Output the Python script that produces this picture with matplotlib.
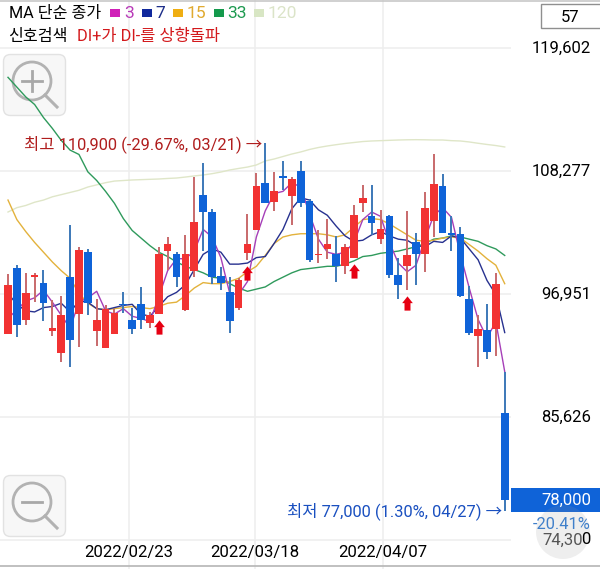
"""Daily candle chart with moving averages, styled like a Korean brokerage app."""

import matplotlib

matplotlib.use("Agg")

import matplotlib.pyplot as plt
import numpy as np
from matplotlib.patches import Circle, FancyBboxPatch, Rectangle
from matplotlib.path import Path

plt.rcParams["font.family"] = ["Roboto", "Noto Sans CJK KR", "DejaVu Sans"]

opens = [93300, 99300, 94600, 98500, 98000, 93500, 91500, 98500, 95100, 100800,
         93500, 92000, 93300, 96000, 94600, 96000, 94300, 95100, 100900, 100600,
         95500, 99100, 106100, 104500, 98600, 97100, 95700, 100700, 102800, 107200,
         105400, 107800, 106000, 108300, 105500, 100500, 101100, 100600, 99500, 100300,
         105300, 104100, 102000, 104100, 98700, 99500, 101700, 100600, 103700, 106900,
         102600, 102500, 96500, 93100, 93600, 93700, 86000]
closes = [97800, 94100, 97000, 98700, 96100, 93800, 95000, 92700, 101000, 96100,
          94600, 95600, 95200, 95900, 93700, 94600, 95000, 100600, 101600, 98500,
          100600, 103600, 104500, 98500, 98000, 94500, 98200, 101600, 106900, 105300,
          106400, 107600, 107500, 105300, 100100, 100600, 101600, 99500, 101300, 104200,
          105800, 103500, 102900, 98700, 97800, 100500, 100600, 104900, 107100, 102600,
          102400, 96800, 93400, 93700, 91600, 97900, 78000]
highs = [98800, 99600, 98900, 98900, 99200, 96400, 96800, 103300, 101300, 101100,
         96500, 95900, 95600, 97100, 95700, 97600, 95300, 101300, 102200, 100800,
         102400, 107700, 109000, 104800, 99400, 98500, 98400, 104300, 108100, 110900,
         108200, 109200, 107700, 109200, 105700, 102800, 103900, 102300, 101600, 105100,
         107000, 107000, 104700, 104200, 100300, 104600, 102600, 106300, 109800, 108000,
         104100, 103100, 97700, 95000, 96000, 98900, 89800]
lows = [93300, 93000, 94100, 96200, 94500, 93100, 90700, 90200, 92100, 95000,
        92200, 92000, 93300, 95200, 93300, 93700, 93800, 95100, 99200, 97600,
        95400, 98500, 100900, 97900, 97300, 93400, 95500, 100100, 102800, 105300,
        104600, 106500, 103300, 105000, 99900, 99800, 100200, 98100, 98800, 100300,
        104500, 102400, 101600, 98400, 96500, 97300, 97800, 99000, 102200, 102600,
        100900, 96700, 93200, 90200, 91000, 91200, 77000]

ma3 = [94700, 95500, 96300, 96600, 97300, 96200, 95000, 93800, 96200, 96600,
       97200, 95400, 95100, 95600, 94900, 94700, 94400, 96700, 99100, 100200,
       100200, 100900, 102900, 102200, 100300, 97000, 96900, 98100, 102200, 104600,
       106200, 106400, 107200, 106800, 104300, 102000, 100800, 100600, 100800, 101700,
       103800, 104500, 104100, 101700, 99800, 99000, 99600, 102000, 104200, 104900,
       104000, 100600, 97500, 94600, 92900, 94400, 89800]
ma7 = [97000, 96000, 95400, 95300, 95700, 95800, 96100, 95300, 96300, 96200,
       95600, 95500, 95700, 95900, 96000, 95100, 94900, 95800, 96700, 97100,
       97800, 99200, 100600, 101100, 100800, 99700, 99700, 99800, 100300, 100400,
       101600, 102900, 104800, 105800, 105600, 104700, 104200, 103200, 102300, 101800,
       101900, 102400, 102700, 102300, 102000, 101900, 101400, 101300, 101800, 101700,
       102300, 102100, 101100, 100100, 98200, 96900, 93400]
ma15 = [105600, 103800, 102700, 101700, 100800, 99900, 99100, 98400, 97000, 96100,
        95600, 95500, 95600, 95700, 95800, 95700, 95600, 95800, 96100, 96200,
        96800, 97500, 98000, 97900, 97900, 98100, 98400, 99000, 99500, 100500,
        101600, 102200, 102400, 102500, 102500, 102500, 102400, 102200, 102400, 103100,
        103800, 103900, 103800, 103400, 102900, 102400, 101900, 101800, 101900, 102100,
        102200, 102100, 101500, 100900, 100200, 99600, 97900]
ma33 = [116900, 116000, 115100, 114400, 113200, 112200, 111100, 110200, 109800, 108200,
        107400, 106400, 105300, 103900, 102800, 102100, 101400, 100800, 100400, 99900,
        99500, 99200, 98900, 98500, 98400, 97900, 97500, 97200, 97400, 97600,
        98100, 98500, 98900, 99200, 99300, 99400, 99500, 99500, 99700, 100000,
        100400, 100500, 100700, 100800, 100900, 101100, 101300, 101600, 102000, 102100,
        102300, 102200, 102000, 101800, 101400, 101100, 100500]
ma120 = [104500, 104900, 105100, 105400, 105600, 105900, 106100, 106300, 106500, 106800,
         107000, 107200, 107350, 107400, 107450, 107480, 107510, 107540, 107590, 107630,
         107720, 107820, 107910, 108030, 108180, 108370, 108510, 108640, 108830, 109200,
         109380, 109610, 109840, 110030, 110260, 110440, 110580, 110700, 110810, 110900,
         110990, 111040, 111070, 111100, 111130, 111150, 111160, 111150, 111130, 111130,
         111070, 111040, 110950, 110830, 110720, 110620, 110490]

signal_days = [17, 27, 39, 45]
signal_levels = [93900, 98900, 99100, 96100]

price_ticks = [119602, 108277, 96951, 85626, 74300]
date_labels = ["2022/02/23", "2022/03/18", "2022/04/07"]
date_positions = [13.6, 27.85, 42.3]

RED = "#f23232"
BLUE = "#0f63d8"
RED_WICK = "#c8696b"
BLUE_WICK = "#3c78b8"
MA_COLORS = ["#a63fb8", "#27318f", "#e3b23c", "#2f9a5c", "#dfe6c8"]
GRID = "#eeeeee"

W, H = 600, 569
fig = plt.figure(figsize=(W / 100, H / 100), dpi=100, facecolor="white")


def pixel_axes(zorder):
    """Axes in screen pixels, for the app chrome around the chart."""
    pax = fig.add_axes([0, 0, 1, 1], zorder=zorder)
    pax.set_axis_off()
    pax.set_xlim(0, W)
    pax.set_ylim(H, 0)
    return pax


back = pixel_axes(-1)
ax = fig.add_axes([0, 0, 1, 1])
ax.set_axis_off()
# one candle is 8.87 px, one px is 92.08 won
ax.set_xlim(-8 / 8.87, (W - 8) / 8.87)
ax.set_ylim(124022 - 92.08 * H, 124022)
ui = pixel_axes(5)

grid_right = (511 - 8) / 8.87
ax.hlines(price_ticks, -1, grid_right, color=GRID, lw=1.1, zorder=1)
ax.vlines(date_positions, ax.get_ylim()[0], ax.get_ylim()[1], color=GRID, lw=1.1, zorder=1)

x = np.arange(len(opens))
for series, color in zip([ma120, ma33, ma15, ma7, ma3], MA_COLORS[::-1]):
    ax.plot(x, series, color=color, lw=1.0, zorder=2)

opens_a, closes_a = np.array(opens), np.array(closes)
up = closes_a >= opens_a
ax.vlines(x[up], np.array(lows)[up], np.array(highs)[up], color=RED_WICK, lw=1.4, zorder=3)
ax.vlines(x[~up], np.array(lows)[~up], np.array(highs)[~up], color=BLUE_WICK, lw=1.4, zorder=3)
ax.bar(x[up], (closes_a - opens_a)[up], bottom=opens_a[up], width=0.86, color=RED, zorder=4)
ax.bar(x[~up], (opens_a - closes_a)[~up], bottom=closes_a[~up], width=0.86, color=BLUE, zorder=4)

arrow = Path([(0, 1), (0.75, 0.05), (0.42, 0.05), (0.42, -1), (-0.42, -1), (-0.42, 0.05),
              (-0.75, 0.05), (0, 1)], closed=True)
ax.scatter(signal_days, signal_levels, marker=arrow, s=105, color="#e60012", linewidths=0, zorder=5)


def label(px, py, text, color="black", size=12, ha="left", **kw):
    ui.text(px, py, text, color=color, fontsize=size, ha=ha, va="center", **kw)


# header legend
label(9, 13, "MA 단순 종가", size=11.6)
for sx, lx, name, swatch, color in [
    (110, 124.5, "3", "#d020b8", "#b83ab8"),
    (142, 155.5, "7", "#10289c", "#1e2f8a"),
    (173, 187, "15", "#efae12", "#e0aa30"),
    (214, 227, "33", "#149a4c", "#1e9a50"),
    (254, 268, "120", "#d8e6c4", "#dbe4c8"),
]:
    ui.add_patch(Rectangle((sx, 8.5), 9.5, 8.5, color=swatch, lw=0))
    label(lx, 13, name, color=color, size=12.6)
label(8.5, 36, "신호검색", size=11.6)
label(77, 36, "DI+가 DI-를 상향돌파", color="#d3191c", size=11.8)

# annotations
label(24, 144, "최고 110,900 (-29.67%, 03/21) →", color="#b01e1e", size=11.9)
label(287, 511, "최저 77,000 (1.30%, 04/27) →", color="#1a50c0", size=11.9)

# price scale
for price in price_ticks[:-1]:
    label(591, (124022 - price) / 92.08, f"{price:,}", ha="right")
ui.add_patch(Rectangle((511, 488), 89, 23.5, color=BLUE, lw=0))
label(591, 500, "78,000", color="white", ha="right")
label(591, 524.5, "-20.41%", color="#3f7fca", ha="right", size=11.8)
label(583, 540, "74,30", color="#555555", ha="right")
label(591, 540, "0", ha="right")
ui.add_patch(Circle((563, 532), 27, color="#999999", alpha=0.16, lw=0))

ui.add_patch(Rectangle((540.5, 4), 62, 24, fc="white", ec="#8f8f8f", lw=1))
label(570, 17, "57", ha="center")

# date axis
for pos, text in zip(date_positions, date_labels):
    ui.text(8 + 8.87 * pos, 552.5, text, fontsize=12.1, ha="center", va="center")
ui.plot([0, W], [566, 566], color="#b5b5b5", lw=1.2)
ui.plot([0, W], [0.5, 0.5], color="#c8c8c8", lw=1.2)

# zoom buttons sit under the lines
for top, sign in [(54, "+"), (475, "-")]:
    back.add_patch(FancyBboxPatch((3.5, top + 0.5), 62, 61, boxstyle="round,pad=0,rounding_size=7",
                                  fc="#f7f7f7", ec="#e2e2e2", lw=1))
    cy = top + 27
    back.add_patch(Circle((32, cy), 19, fc="none", ec="#b2b2b2", lw=2))
    back.plot([45, 57], [cy + 14, cy + 26], color="#b2b2b2", lw=2.2)
    back.plot([22, 42], [cy, cy], color="#a8a8a8", lw=2)
    if sign == "+":
        back.plot([32, 32], [cy - 10, cy + 10], color="#a8a8a8", lw=2)

fig.savefig("out.png", dpi=100)
